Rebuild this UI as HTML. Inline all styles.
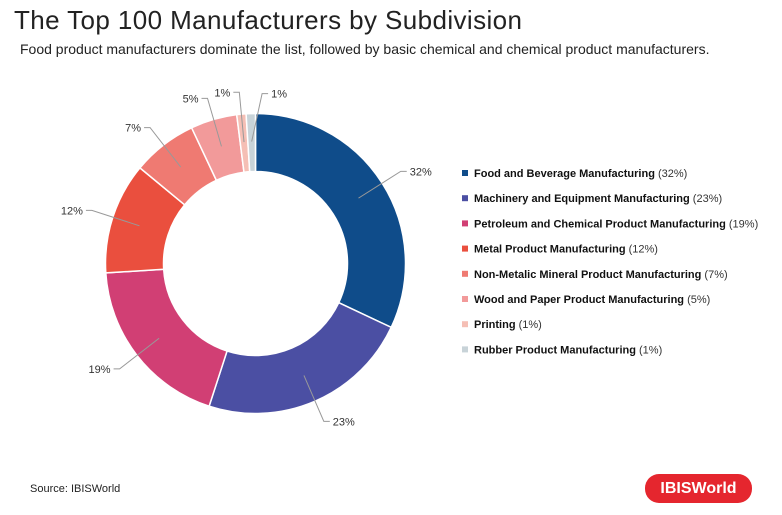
<!DOCTYPE html>
<html><head><meta charset="utf-8"><style>
body{margin:0;background:#fff;font-family:"Liberation Sans",sans-serif;}
#wrap{position:relative;width:782px;height:515px;overflow:hidden;}
.t{position:absolute;white-space:nowrap;}
</style></head><body>
<div id="wrap">
<div class="t" style="left:14px;top:5px;font-size:26px;letter-spacing:0.4px;color:#222;">The Top 100 Manufacturers by Subdivision</div>
<div class="t" style="left:20px;top:41px;font-size:14px;color:#222;">Food product manufacturers dominate the list, followed by basic chemical and chemical product manufacturers.</div>
<svg id="chart" width="782" height="515" style="position:absolute;left:0;top:0;"></svg>
<div class="t" style="left:30px;top:483px;font-size:11px;color:#222;">Source: IBISWorld</div>
<div class="t" style="left:645px;top:474px;width:107px;height:29px;background:#e5262e;border-radius:14px;color:#fff;font-size:16px;font-weight:bold;line-height:29px;text-align:center;">IBISWorld</div>
</div>
<script>
const categories=["Food and Beverage Manufacturing","Machinery and Equipment Manufacturing","Petroleum and Chemical Product Manufacturing","Metal Product Manufacturing","Non-Metalic Mineral Product Manufacturing","Wood and Paper Product Manufacturing","Printing","Rubber Product Manufacturing"];
const values=[32,23,19,12,7,5,1,1];
const colors=["#0f4c8a","#4b4fa3","#d13f74","#ea4f3e","#ef7a72","#f29a9a","#f5bfb5","#c8d3d8"];
const NS="http://www.w3.org/2000/svg";
const svg=document.getElementById('chart');
const cx=255.5,cy=263.5,R=150,r=92;
const total=values.reduce((a,b)=>a+b,0);
function pt(a,rad){return [cx+rad*Math.sin(a),cy-rad*Math.cos(a)];}
function mk(tag,attrs){const e=document.createElementNS(NS,tag);for(const k in attrs)e.setAttribute(k,attrs[k]);svg.appendChild(e);return e;}
let acc=0;
values.forEach((v,i)=>{
  const a0=acc/total*2*Math.PI;acc+=v;const a1=acc/total*2*Math.PI;
  const lg=(a1-a0)>Math.PI?1:0;
  const p0=pt(a0,R),p1=pt(a1,R),q1=pt(a1,r),q0=pt(a0,r);
  const d=`M${p0[0]},${p0[1]}A${R},${R} 0 ${lg} 1 ${p1[0]},${p1[1]}L${q1[0]},${q1[1]}A${r},${r} 0 ${lg} 0 ${q0[0]},${q0[1]}Z`;
  const s=mk('path',{d:d,fill:colors[i],stroke:'#fff','stroke-width':1.5});
  
  
  const am=(a0+a1)/2;
  const pin=pt(am,122);let pe=pt(am,172);
  let right=Math.sin(am)>=0;
  const last=(i===values.length-1)&&v<3;
  if(last){right=true;pe=[pe[0]+12,pe[1]+2];}
  const ex=pe[0]+(right?6:-6);
  const ln=mk('polyline',{points:`${pin[0]},${pin[1]} ${pe[0]},${pe[1]} ${ex},${pe[1]}`,fill:'none',stroke:'#999','stroke-width':1});
  
  
  const tx=mk('text',{x:ex+(right?3:-3),y:pe[1]+4,'font-size':11,fill:'#333','text-anchor':right?'start':'end','font-family':'Liberation Sans, sans-serif'});
  tx.textContent=v+'%';
  
  
  const ly=174+i*25.2;
  const sq=mk('rect',{x:462,y:ly-4,width:6,height:6,fill:colors[i]});
  
  
  const lt=mk('text',{x:474,y:ly+3,'font-size':11,fill:'#111','font-family':'Liberation Sans, sans-serif'});
  
  
  const b=document.createElementNS(NS,'tspan');b.setAttribute('font-weight','bold');b.textContent=categories[i];lt.appendChild(b);
  const n=document.createElementNS(NS,'tspan');n.setAttribute('fill','#333');n.textContent=' ('+v+'%)';lt.appendChild(n);
});
</script>
</body></html>
